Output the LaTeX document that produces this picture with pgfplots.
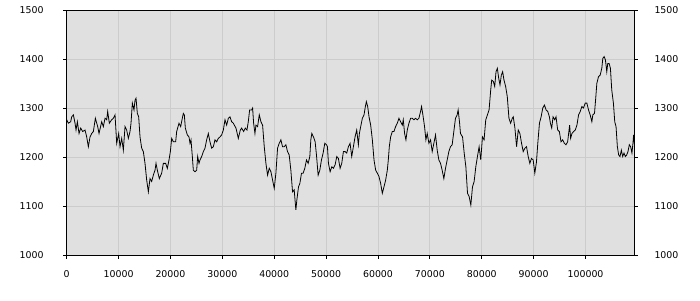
\documentclass[border=0pt]{standalone}
\usepackage{fontspec}
\setmainfont{DejaVu Sans}
\usepackage{pgfplots}
\pgfplotsset{compat=1.18}
\definecolor{bgc}{RGB}{224,224,224}
\definecolor{gridc}{RGB}{204,204,204}
\begin{document}
\fontsize{9.4}{11}\selectfont
\begin{tikzpicture}
\pgfplotsset{
  common/.style={
    scale only axis,
    width=567.6pt, height=245pt,
    xmin=0, xmax=109400, ymin=1000, ymax=1500,
    ytick={1000,1100,1200,1300,1400,1500},
    yticklabels={1000,1100,1200,1300,1400,1500},
    xtick={0,10000,20000,30000,40000,50000,60000,70000,80000,90000,100000},
    xticklabels={0,10000,20000,30000,40000,50000,60000,70000,80000,90000,100000},
    scaled x ticks=false, scaled y ticks=false,
    tick align=outside,
    major tick length=3.5pt,
    tick style={black, line width=0.8pt},
    tick label style={font=\fontsize{9.4}{11}\selectfont, inner sep=0pt},
  }
}
\begin{axis}[common,
  axis background/.style={fill=bgc},
  axis line style={black, line width=0.9pt},
  grid=major,
  major grid style={gridc, line width=0.9pt},
  xtick pos=left, ytick pos=left,
  yticklabel style={anchor=east, xshift=-19.5pt},
  xticklabel style={anchor=north, yshift=-11.5pt},
]
\addplot[black, line width=0.8pt, mark=none] coordinates {
(0,1276)(321,1269)(771,1272)(963,1282)(1285,1286)(1606,1269)(1798,1255)(2055,1272)(2377,1248)(2698,1259)(3083,1252)(3533,1255)(3854,1241)(4175,1221)(4496,1241)(4817,1248)(5138,1252)(5524,1279)(5973,1262)(6230,1248)(6744,1272)(7065,1262)(7386,1279)(7708,1276)(7900,1293)(8221,1269)(8671,1276)(8992,1279)(9313,1286)(9506,1252)(9635,1228)(10020,1248)(10277,1221)(10598,1238)(10919,1214)(11240,1262)(11561,1255)(11883,1238)(12204,1252)(12396,1269)(12653,1310)(12974,1296)(13167,1316)(13360,1320)(13617,1289)(13874,1282)(14131,1241)(14452,1218)(14773,1211)(15094,1187)(15415,1153)(15736,1129)(16058,1156)(16379,1150)(16700,1163)(17021,1173)(17214,1187)(17471,1173)(17856,1156)(18306,1167)(18627,1187)(19076,1187)(19397,1177)(19719,1194)(19976,1211)(20232,1238)(20554,1231)(21003,1231)(21196,1252)(21646,1269)(21967,1262)(22224,1276)(22481,1289)(22673,1286)(22866,1259)(23251,1245)(23572,1241)(23765,1228)(23958,1235)(24215,1201)(24407,1173)(24729,1170)(25050,1173)(25242,1201)(25499,1187)(25692,1194)(26013,1201)(26334,1211)(26655,1218)(26977,1235)(27298,1248)(27619,1231)(27940,1218)(28261,1221)(28582,1235)(28904,1231)(29225,1238)(29546,1241)(29867,1245)(30188,1255)(30509,1276)(30830,1265)(31152,1279)(31473,1282)(31794,1272)(32115,1269)
(32308,1265)(32629,1259)(33077,1238)(33462,1255)(33718,1259)(34103,1252)(34423,1259)(34744,1255)(35000,1272)(35257,1296)(35641,1296)(35834,1300)(36026,1269)(36282,1248)(36474,1265)(36795,1262)(37116,1286)(37436,1272)(37757,1265)(38077,1221)(38398,1187)(38718,1163)(39039,1177)(39359,1170)(39680,1153)(40000,1136)(40321,1167)(40641,1218)(40962,1228)(41282,1235)(41603,1221)(41923,1221)(42244,1225)(42564,1211)(42885,1204)(43205,1173)(43526,1129)(43846,1133)(44167,1092)(44359,1112)(44679,1139)(44936,1146)(45256,1167)(45577,1167)(45897,1177)(46218,1194)(46538,1187)(46859,1201)(47051,1235)(47243,1248)(47564,1241)(47884,1231)(48141,1204)(48461,1163)(48782,1173)(49102,1194)(49423,1208)(49743,1228)(50064,1225)(50256,1221)(50448,1187)(50769,1170)(51089,1180)(51410,1177)(51730,1184)(52051,1201)(52371,1197)(52692,1177)(53012,1187)(53333,1211)(53653,1211)(53974,1208)(54294,1221)(54615,1228)(54935,1201)(55256,1221)(55576,1241)(55897,1255)(56217,1225)(56410,1248)(56666,1262)(56987,1279)(57307,1286)(57563,1303)(57756,1313)(58012,1303)(58269,1282)(58589,1265)(58910,1235)(59230,1194)(59551,1173)(59871,1167)(60192,1160)(60512,1146)(60833,1126)(61153,1139)(61474,1153)(61794,1173)(61986,1194)(62179,1221)(62435,1241)(62756,1252)(63076,1252)(63397,1262)(63717,1269)(64038,1279)(64358,1272)(64679,1265)(64871,1276)(65127,1248)(65384,1235)(65640,1255)(65961,1269)(66281,1279)(66602,1279)(66922,1276)(67243,1279)(67563,1276)(67884,1279)(68204,1293)(68396,1303)(68653,1286)(68973,1262)(69230,1235)(69486,1248)(69807,1228)(70127,1235)(70448,1211)(70768,1228)(71089,1245)(71409,1214)(71730,1194)(72050,1187)(72371,1173)(72691,1156)(73012,1177)(73332,1194)(73653,1211)(73973,1221)(74294,1225)(74614,1252)(74935,1279)(75255,1286)(75447,1296)(75704,1272)(75896,1248)
(76294,1241)(76613,1208)(76933,1180)(77252,1126)(77572,1119)(77891,1102)(78211,1139)(78530,1150)(78850,1180)(79169,1201)(79489,1221)(79808,1194)(80128,1241)(80447,1235)(80767,1276)(81086,1286)(81406,1296)(81725,1337)(81917,1357)(82237,1354)(82492,1344)(82748,1374)(83003,1381)(83259,1361)(83515,1347)(83770,1367)(84026,1374)(84281,1357)(84601,1344)(84920,1323)(85240,1279)(85559,1269)(85879,1279)(86071,1282)(86390,1259)(86710,1221)(87029,1255)(87349,1248)(87668,1228)(87988,1211)(88307,1218)(88627,1221)(88946,1201)(89266,1187)(89585,1197)(89905,1194)(90224,1167)(90544,1190)(90799,1228)(91119,1269)(91438,1282)(91758,1300)(92077,1306)(92397,1296)(92716,1293)(93036,1282)(93228,1269)(93483,1259)(93739,1282)(94058,1276)(94314,1282)(94634,1255)(94953,1252)(95273,1231)(95592,1235)(95912,1228)(96231,1225)(96551,1231)(96743,1248)(96935,1265)(97126,1238)(97382,1248)(97702,1252)(98021,1255)(98341,1265)(98660,1286)(98980,1293)(99300,1303)(99619,1300)(99939,1310)(100258,1310)(100578,1296)(100897,1286)(101217,1272)(101409,1286)(101728,1289)(101984,1323)(102176,1350)(102496,1364)(102815,1367)(103135,1381)(103326,1401)(103582,1405)(103838,1398)(104094,1374)(104285,1391)(104541,1391)(104797,1381)(105052,1337)(105372,1310)(105628,1272)(105880,1262)(106135,1221)(106391,1204)(106646,1201)(106902,1214)(107157,1201)(107413,1208)(107669,1201)(107924,1204)(108180,1211)(108436,1225)(108691,1221)(108947,1208)(109138,1228)(109266,1245)(109394,1228)
};
\end{axis}
\begin{axis}[common,
  axis x line=none,
  axis y line*=right,
  axis line style={black, line width=0.9pt},
  ytick pos=right, yticklabel pos=right,
  yticklabel style={anchor=west, xshift=16.5pt},
]
\addplot[draw=none] coordinates {(0,1000)};
\end{axis}
\useasboundingbox (-66.7pt,-45pt) rectangle (633.3pt,255pt);
\end{tikzpicture}
\end{document}
